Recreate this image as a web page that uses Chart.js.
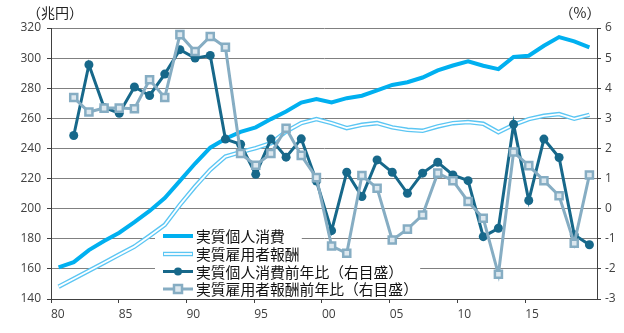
<!DOCTYPE html>
<html><head><meta charset="utf-8">
<script src="https://cdn.jsdelivr.net/npm/chart.js@4.4.0/dist/chart.umd.min.js"></script>
<style>html,body{margin:0;padding:0;background:#fff;}#wrap{width:624px;height:333px;}</style>
</head><body><div id="wrap"><canvas id="c" width="624" height="333"></canvas></div>
<script>
const years = [1980,1981,1982,1983,1984,1985,1986,1987,1988,1989,1990,1991,1992,1993,1994,1995,1996,1997,1998,1999,2000,2001,2002,2003,2004,2005,2006,2007,2008,2009,2010,2011,2012,2013,2014,2015];
const xTickLabels = ['80','85','90','95','00','05','10','15'];
const consumption = [161,164.5,172.5,178.5,184,191,198.5,207,218.5,230,240.5,246.5,251,254,259.5,264.5,270.5,272.8,270.5,273.4,275,278.5,282.2,284,287.1,291.8,295.1,297.8,294.9,292.7,300.7,301.6,308.2,314,311.1,307.1];
const compensation = [148.2,153.5,158.8,164.1,169.5,174.8,181.9,189.2,202.5,214.7,225.8,234.6,237.5,240.2,243.5,251.2,256.8,259.5,256.8,253.5,255.7,256.8,254,252.4,251.7,254.6,256.8,257.5,256.4,250.8,255.7,259.5,261.7,262.8,259.7,262.3];
const consumptionYoY = [null,2.43,4.78,3.36,3.17,4.04,3.76,4.47,5.28,5.00,5.09,2.31,2.14,1.14,2.31,1.71,2.32,0.92,-0.73,1.21,0.40,1.62,1.21,0.51,1.18,1.54,1.12,0.93,-0.93,-0.65,2.80,0.27,2.31,1.70,-0.87,-1.20];
const compensationYoY = [null,3.69,3.21,3.34,3.34,3.32,4.28,3.69,5.78,5.22,5.72,5.36,1.83,1.44,1.83,2.67,1.77,1.03,-1.24,-1.48,1.10,0.68,-1.04,-0.68,-0.21,1.18,0.93,0.24,-0.32,-2.18,1.88,1.43,0.93,0.43,-1.15,1.12];
const legendLabels = ['実質個人消費','実質雇用者報酬','実質個人消費前年比（右目盛）','実質雇用者報酬前年比（右目盛）'];
const leftUnit = '（兆円）';
const rightUnit = '（%）';

const C_CONS = '#00B0F0';
const C_COMP = '#5CC6F3';
const C_CYOY = '#17688A';
const C_WYOY = '#86ADC3';
const C_WYOY_FILL = '#dde8ef';
const TICK_FONT = {family:'"Open Sans","Noto Sans",sans-serif', size:12};
const TICK_COLOR = '#404040';
const AXIS_COLOR = '#404040';
const CJK = '"Noto Sans CJK JP", sans-serif';
const LEG_FONT = '14.8px ' + CJK;

const overlay = {
  id:'overlay',
  beforeDatasetsDraw(chart){
    const ctx = chart.ctx;
    ctx.save();
    ctx.font = LEG_FONT;
    const rows=[236,254,271.5,289];
    legendLabels.forEach((lab,i)=>{
      const w = ctx.measureText(lab).width;
      ctx.fillStyle='#fff';
      ctx.fillRect(155, rows[i]-8.5, 195+w+18-155, 17);
    });
    ctx.restore();
  },
  afterDraw(chart){
    const ctx = chart.ctx;
    ctx.save();
    const rows=[236,254,271.5,289];
    const x0=163,x1=193,tx=196;
    ctx.lineCap='butt';
    ctx.strokeStyle=C_CONS; ctx.lineWidth=4;
    ctx.beginPath(); ctx.moveTo(x0,rows[0]); ctx.lineTo(x1,rows[0]); ctx.stroke();
    ctx.strokeStyle=C_COMP; ctx.lineWidth=4.5;
    ctx.beginPath(); ctx.moveTo(x0,rows[1]); ctx.lineTo(x1,rows[1]); ctx.stroke();
    ctx.strokeStyle='#fff'; ctx.lineWidth=1.8;
    ctx.beginPath(); ctx.moveTo(x0+1,rows[1]); ctx.lineTo(x1-1,rows[1]); ctx.stroke();
    ctx.strokeStyle=C_CYOY; ctx.lineWidth=3;
    ctx.beginPath(); ctx.moveTo(x0,rows[2]); ctx.lineTo(x1,rows[2]); ctx.stroke();
    ctx.fillStyle=C_CYOY; ctx.beginPath(); ctx.arc((x0+x1)/2,rows[2],4,0,Math.PI*2); ctx.fill();
    ctx.strokeStyle=C_WYOY; ctx.lineWidth=3;
    ctx.beginPath(); ctx.moveTo(x0,rows[3]); ctx.lineTo(x1,rows[3]); ctx.stroke();
    ctx.fillStyle=C_WYOY_FILL; ctx.lineWidth=2.5;
    ctx.fillRect((x0+x1)/2-4,rows[3]-4,8,8); ctx.strokeRect((x0+x1)/2-4,rows[3]-4,8,8);
    ctx.fillStyle='#111'; ctx.font=LEG_FONT; ctx.textBaseline='middle'; ctx.textAlign='left';
    legendLabels.forEach((lab,i)=>ctx.fillText(lab,tx,rows[i]+0.5));
    ctx.font='14px '+CJK; ctx.fillStyle='#222'; ctx.textAlign='center';
    ctx.fillText(leftUnit,55,13);
    ctx.fillText(rightUnit,580,13);
    ctx.restore();
  }
};

new Chart(document.getElementById('c'),{
  type:'line',
  data:{
    labels: years,
    datasets:[
      {label:legendLabels[3], data:compensationYoY, yAxisID:'y1', xAxisID:'x', order:0,
       borderColor:C_WYOY, borderWidth:3, pointStyle:'rect', pointRadius:5, pointBorderWidth:2.5,
       pointBackgroundColor:C_WYOY_FILL, pointBorderColor:C_WYOY, tension:0},
      {label:legendLabels[2], data:consumptionYoY, yAxisID:'y1', xAxisID:'x', order:1,
       borderColor:C_CYOY, borderWidth:3, pointStyle:'circle', pointRadius:4.5, pointBorderWidth:0,
       pointBackgroundColor:C_CYOY, pointBorderColor:C_CYOY, tension:0},
      {label:legendLabels[0], data:consumption, yAxisID:'y', xAxisID:'x', order:2,
       borderColor:C_CONS, borderWidth:4, pointRadius:0, tension:0},
      {label:legendLabels[1]+'_inner', data:compensation, yAxisID:'y', xAxisID:'x', order:3,
       borderColor:'#ffffff', borderWidth:1.8, pointRadius:0, tension:0},
      {label:legendLabels[1], data:compensation, yAxisID:'y', xAxisID:'x', order:4,
       borderColor:C_COMP, borderWidth:4.5, pointRadius:0, tension:0}
    ]
  },
  options:{
    responsive:false, animation:false, devicePixelRatio:1,
    layout:{padding:{top:28,left:0,right:0,bottom:0}},
    plugins:{legend:{display:false}, tooltip:{enabled:false}},
    scales:{
      x:{type:'category', offset:true, display:false},
      xl:{type:'linear', position:'bottom', min:0, max:40.3,
        afterBuildTicks:s=>{ s.ticks=[0,5,10,15,20,25,30,35].map(v=>({value:v})); },
        ticks:{autoSkip:false, maxRotation:0, labelOffset:6.8, padding:4, font:TICK_FONT, color:TICK_COLOR,
          callback:(v)=>xTickLabels[Math.round(v/5)]},
        grid:{drawOnChartArea:false, drawTicks:true, tickLength:4, color:AXIS_COLOR},
        border:{color:AXIS_COLOR, width:1},
        afterFit:s=>{ s.height=34; }},
      y:{position:'left', min:140, max:320,
        ticks:{stepSize:20, padding:6, font:TICK_FONT, color:TICK_COLOR},
        grid:{color:'#808080', lineWidth:1, tickColor:AXIS_COLOR, tickLength:4},
        border:{color:AXIS_COLOR, width:1},
        afterFit:s=>{ s.width=51; }},
      y1:{position:'right', min:-3, max:6,
        ticks:{stepSize:1, padding:4, font:TICK_FONT, color:TICK_COLOR},
        grid:{drawOnChartArea:false, tickLength:4, color:AXIS_COLOR},
        border:{color:AXIS_COLOR, width:1},
        afterFit:s=>{ s.width=27; }}
    }
  },
  plugins:[overlay]
});
</script>
</body></html>
